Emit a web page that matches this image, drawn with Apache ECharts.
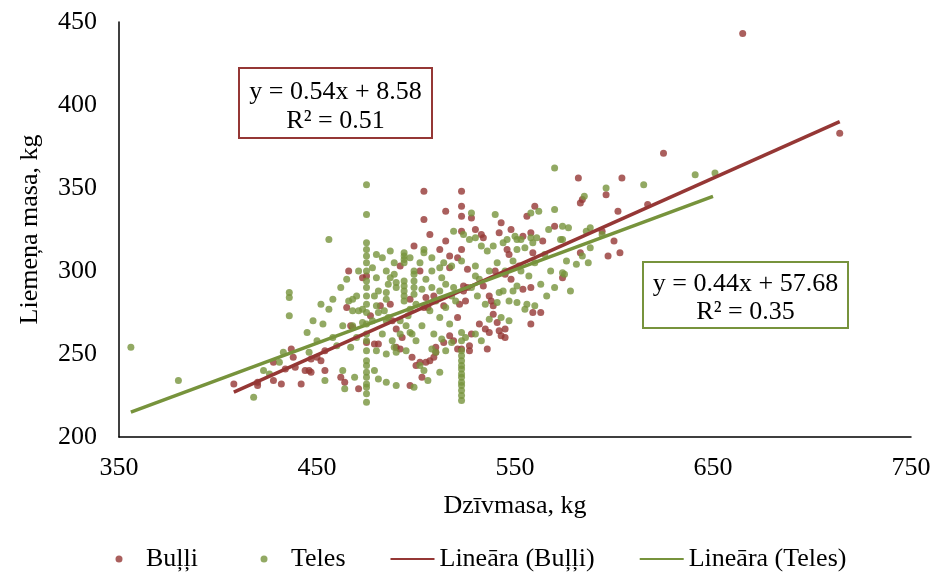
<!DOCTYPE html>
<html>
<head>
<meta charset="utf-8">
<script src="https://cdn.jsdelivr.net/npm/echarts@6/dist/echarts.min.js"></script>
<style>
html,body{margin:0;padding:0;background:#fff;}
#chart{width:935px;height:572px;}
</style>
</head>
<body>
<div id="chart"></div>
<script>
// ---- data ----
var seriesNames = ['Buļļi', 'Teles', 'Lineāra (Buļļi)', 'Lineāra (Teles)'];
var xTicks = [350, 450, 550, 650, 750];
var yTicks = [200, 250, 300, 350, 400, 450];

var bulli = [
[665,443],[714,383],[625,371],[604,356],[582,356],[617,340],[596,346],[584,343],[583,341],[602,336],[594,324],[600,318],[583,311],[603,311],[574,296],
[560,339],[556,333],[543,329],[542,323],[548,325],[570,327],[558,323],[554,321],[564,318],[533,322],[534,320],[559,311],[546,313],[547,310],
[504,348],[523,348],[523,339],[515,336],[523,333],[528,332],[504,331],[530,325],[523,324],[507,322],[515,318],[499,315],[512,313],[523,313],[517,309],[521,308],[517,302],[526,301],[502,300],
[466,300],[473,296],[475,297],[492,303],
[465,278],[487,280],[477,273],[454,252],[452,246],[454,240],[462,236],[467,267],[468,266],[475,257],[479,256],[481,256],
[532,268],[535,265],[537,263],[542,264],[545,265],[543,261],[545,260],[536,253],[558,268],[563,275],[559,275],[541,269],[537,285],[538,282],[539,279],[539,274],[558,290],[554,289],[534,291],
[408,232],[420,231],[420,233],[428,234],[432,232],[428,245],[438,248],[437,253],[439,242],[434,241],[444,240],[446,240],[447,247],[450,248],
[493,260],[492,253],[498,248],[500,243],[502,245],[505,245],[507,246],[509,248],[510,254],[517,261],[519,258],[521,253],[523,253],[527,255],[527,252],[528,262],[521,272],[522,280],[525,282],[526,290],[524,291],[505,284],[509,285],[506,278],[497,283],
[524,288],[514,279],[540,300],[545,298],[552,303],[548,295],[597,309],[510,251],[514,257],[482,279],[488,270],[490,265],[504,278],[490,254],[464,233],[471,229],[442,232],[447,239],[497,231],[503,236]
];

var teles = [
[356,254],[380,234],[418,224],[423,240],[426,238],[433,251],[436,284],[436,287],[436,273],[446,251],[431,245],
[570,362],[615,352],[641,358],[651,359],[596,350],[585,345],[574,327],[577,326],[588,326],[586,324],[594,322],[574,319],[588,314],[584,309],[576,306],[581,304],[587,305],[574,299],[575,298],
[562,336],[558,335],[570,337],[540,334],[567,325],[550,321],[551,319],[553,319],[558,320],[561,320],[546,319],[544,317],[539,315],[536,312],[533,315],[551,313],[555,314],[559,317],[573,319],
[528,335],[519,324],[524,322],[527,319],[530,320],[504,313],[504,311],[508,308],[494,311],[494,309],[494,307],[494,305],[523,306],[518,303],[514,305],[512,302],[530,303],[530,297],[499,300],[499,298],
[475,352],[475,334],[456,319],[475,317],[475,313],[475,309],[475,305],[480,296],[487,296],[489,298],
[456,277],[468,276],[471,276],[473,277],[468,283],[475,290],[475,294],[479,285],[481,288],[485,287],[486,292],[490,290],[490,293],[480,279],[481,275],[484,276],[486,272],
[453,268],[463,267],[468,267],[473,269],[478,270],[485,270],[475,268],[467,254],[475,252],[480,252],[485,250],[490,251],[495,252],[489,254],[463,240],[454,234],[469,236],[475,239],[479,240],[475,232],[475,230],[481,235],[485,233],[490,231],[464,229],[475,221],
[494,294],[494,291],[494,288],[494,285],[494,282],[499,294],[499,290],[499,286],[507,276],[512,272],[517,268],[492,270],[495,267],[497,263],[500,258],[498,262],[508,253],[510,251],[515,252],[502,243],[504,240],[512,239],[523,252],[523,246],[523,241],[523,236],[523,231],[523,228],[523,225],[523,222],[506,234],[499,230],
[560,279],[556,280],[555,277],[547,270],[543,272],[537,271],[551,291],[549,288],[544,288],[542,287],[547,282],[551,281],[541,281],
[505,295],[508,290],[512,288],[515,292],[518,285],[510,282],[503,289],[497,277],[500,280],[515,278],[520,282],[519,290],[513,296],[508,300],[502,305],[497,308],[489,305],[485,300],[483,308],[487,312],[480,310],[478,302],[471,300],[465,295],[462,290],[470,285],[466,282],[458,283],[452,280],[448,270],[445,263],[450,258],[458,260],[460,255],[470,260],[483,262],[488,258],[492,262],[485,283],[496,273],[503,267],[509,262],[513,259],[518,257],[525,260],[530,262],[533,258],[535,280],[531,285],[528,290],[532,295],[537,300],[541,305],[545,300],[549,306],[553,300],[557,297],[560,305],[565,310],[568,300],[563,292],[570,290],[566,285],[578,288],
[475,300],[475,285],[475,280],[475,275],[475,262],[475,258],[475,246],[475,243],[475,236],[475,226],[523,233],[523,238],[523,243],[523,249],[523,258],[523,263]
];

// trend line end points
var trendBulli = [[408,227],[714,390]];
var trendTeles = [[356,215],[650,345]];

var eqBulli = ['y = 0.54x + 8.58', 'R² = 0.51'];
var eqTeles = ['y = 0.44x + 57.68', 'R² = 0.35'];

// ---- chart ----
var RED = '#953735', GREEN = '#77933C';
var FONT = '"Liberation Serif", "Times New Roman", serif';
// legend marker: dot centred in a 44x7 box (moveTo corners set the box)
var DOT_ICON = 'path://M0,0 M44,7 M18.5,3.5 a3.5,3.5 0 1,0 7,0 a3.5,3.5 0 1,0 -7,0 Z';
var chart = echarts.init(document.getElementById('chart'), null, {renderer:'canvas'});
var hidden = {color:'rgba(0,0,0,0)', borderWidth:0};
var option = {
  animation: false,
  backgroundColor: '#fff',
  grid: {left:119, right:24, top:22, bottom:135},
  xAxis: {
    type:'value', min:xTicks[0], max:xTicks[xTicks.length-1], interval:100,
    name:'Dzīvmasa, kg', nameLocation:'middle', nameGap:56,
    nameTextStyle:{fontFamily:FONT, fontSize:26, color:'#000'},
    axisLine:{show:true, lineStyle:{color:'#000', width:1.5}},
    axisTick:{show:false}, splitLine:{show:false},
    axisLabel:{fontFamily:FONT, fontSize:26, color:'#000', margin:18}
  },
  yAxis: {
    type:'value', min:yTicks[0], max:yTicks[yTicks.length-1], interval:50,
    name:'Liemeņa masa, kg', nameLocation:'middle', nameGap:76,
    nameTextStyle:{fontFamily:FONT, fontSize:26, color:'#000'},
    axisLine:{show:true, lineStyle:{color:'#000', width:1.5}},
    axisTick:{show:false}, splitLine:{show:false},
    axisLabel:{fontFamily:FONT, fontSize:26, color:'#000', margin:22}
  },
  legend: {
    data:[
      {name:seriesNames[0], icon:DOT_ICON},
      {name:seriesNames[1], icon:DOT_ICON},
      {name:seriesNames[2], itemStyle:hidden},
      {name:seriesNames[3], itemStyle:hidden}
    ],
    left:97, top:546, itemWidth:44, itemHeight:7, itemGap:44, padding:0,
    textStyle:{fontFamily:FONT, fontSize:26, color:'#000'}
  },
  series: [
    {name:seriesNames[0], type:'scatter', data:bulli, symbolSize:7, itemStyle:{color:RED}, z:2},
    {name:seriesNames[1], type:'scatter', data:teles, symbolSize:7, itemStyle:{color:GREEN}, z:3},
    {name:seriesNames[2], type:'line', data:trendBulli, symbol:'none', lineStyle:{color:RED, width:3.5}, itemStyle:{color:RED}, z:4},
    {name:seriesNames[3], type:'line', data:trendTeles, symbol:'none', lineStyle:{color:GREEN, width:3.5}, itemStyle:{color:GREEN}, z:5}
  ],
  graphic: [
    {type:'rect', shape:{x:239, y:68, width:193, height:70}, style:{fill:'#fff', stroke:RED, lineWidth:2}, z:10},
    {type:'text', x:335.5, y:92, style:{text:eqBulli[0], align:'center', verticalAlign:'middle', font:'26px '+FONT, fill:'#000'}, z:11},
    {type:'text', x:335.5, y:121, style:{text:eqBulli[1], align:'center', verticalAlign:'middle', font:'26px '+FONT, fill:'#000'}, z:11},
    {type:'rect', shape:{x:643, y:262, width:205, height:66}, style:{fill:'#fff', stroke:GREEN, lineWidth:2}, z:10},
    {type:'text', x:745.5, y:284, style:{text:eqTeles[0], align:'center', verticalAlign:'middle', font:'26px '+FONT, fill:'#000'}, z:11},
    {type:'text', x:745.5, y:312, style:{text:eqTeles[1], align:'center', verticalAlign:'middle', font:'26px '+FONT, fill:'#000'}, z:11}
  ]
};
chart.setOption(option);
</script>
</body>
</html>
